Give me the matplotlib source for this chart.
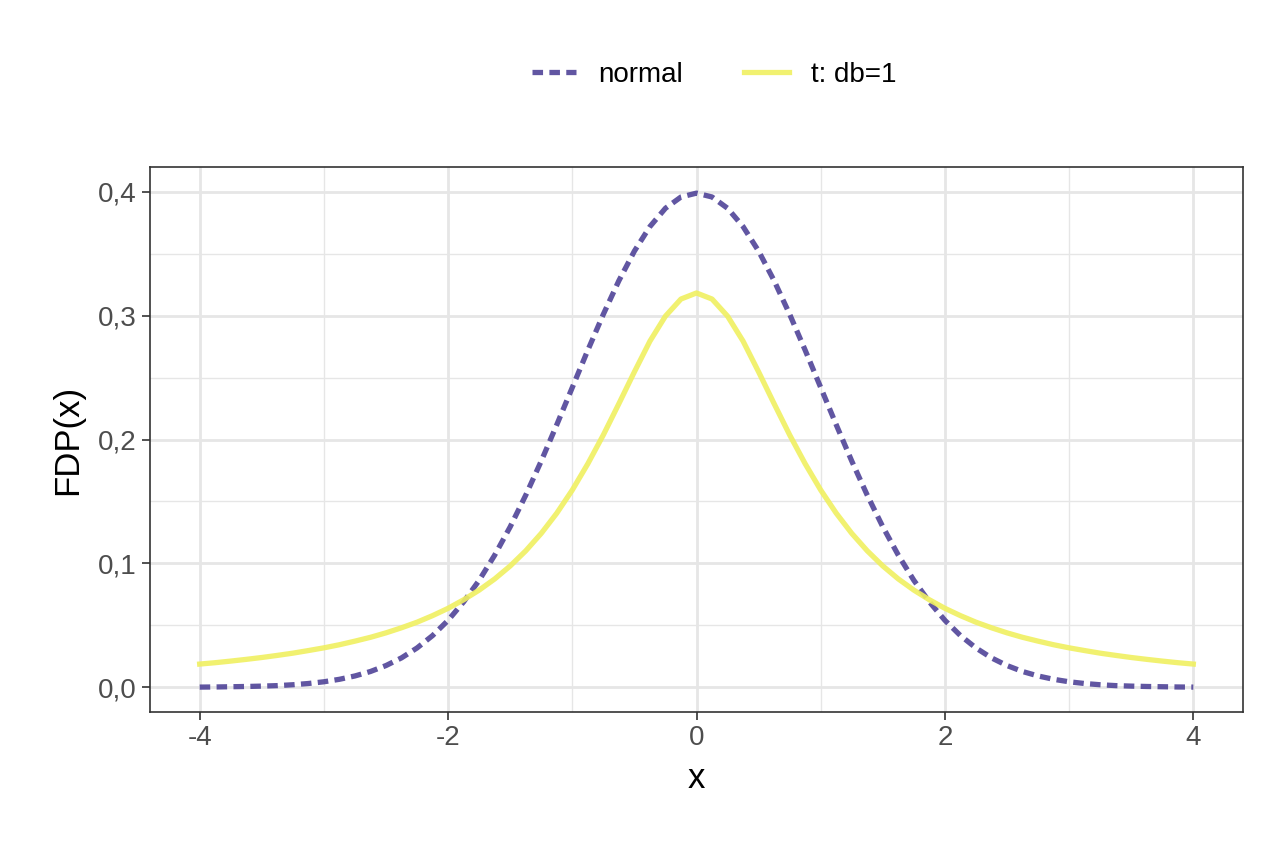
import numpy as np
import matplotlib.pyplot as plt
from matplotlib.ticker import FixedLocator, FuncFormatter

plt.rcParams['font.family'] = ['Liberation Sans', 'DejaVu Sans']
plt.rcParams['axes.unicode_minus'] = False

# values, x from -4 to 4 in steps of 0.125
x = np.arange(-32, 33) * 0.125
normal_half = [0.3989, 0.3958, 0.3867, 0.3719, 0.3521, 0.3282, 0.3011, 0.2721, 0.2420,
               0.2119, 0.1826, 0.1550, 0.1295, 0.1066, 0.0863, 0.0689, 0.0540, 0.0417,
               0.0317, 0.0237, 0.0175, 0.0127, 0.0091, 0.0064, 0.0044, 0.0030, 0.0020,
               0.0013, 0.0009, 0.0006, 0.0004, 0.0002, 0.0001]
t1_half = [0.3183, 0.3134, 0.2996, 0.2794, 0.2546, 0.2289, 0.2037, 0.1804, 0.1592,
           0.1405, 0.1242, 0.1101, 0.0979, 0.0874, 0.0784, 0.0706, 0.0637, 0.0578,
           0.0525, 0.0480, 0.0439, 0.0403, 0.0372, 0.0343, 0.0318, 0.0296, 0.0275,
           0.0257, 0.0240, 0.0225, 0.0211, 0.0198, 0.0187]
normal_y = normal_half[:0:-1] + normal_half
t1_y = t1_half[:0:-1] + t1_half

fig = plt.figure(figsize=(12.64, 8.48), dpi=100)
ax = fig.add_axes([150 / 1264, 1 - 712 / 848, 1093 / 1264, 545 / 848])

ax.plot(x, normal_y, color='#4b3f95', alpha=0.88, lw=3.8, ls=(0, (2.0, 1.2)), label='normal')
ax.plot(x, t1_y, color='#f0f060', alpha=0.9, lw=3.8, label='t: db=1')

ax.set_xlim(-4.4, 4.4)
ax.set_ylim(-0.02, 0.42)
ax.xaxis.set_major_locator(FixedLocator([-4, -2, 0, 2, 4]))
ax.xaxis.set_minor_locator(FixedLocator([-3, -1, 1, 3]))
ax.yaxis.set_major_locator(FixedLocator([0, 0.1, 0.2, 0.3, 0.4]))
ax.yaxis.set_minor_locator(FixedLocator([0.05, 0.15, 0.25, 0.35]))
ax.yaxis.set_major_formatter(FuncFormatter(lambda v, p: f'{v:.1f}'.replace('.', ',')))
ax.grid(which='major', color='#e6e6e6', lw=2.0)
ax.grid(which='minor', color='#e6e6e6', lw=1.0)
ax.set_axisbelow(True)
ax.tick_params(which='major', labelsize=20, colors='#333333', length=6, width=1.2, labelcolor='#4d4d4d')
ax.tick_params(which='minor', length=0)
for s in ax.spines.values():
    s.set_color('#333333')
    s.set_linewidth(1.2)

ax.set_xlabel('x', fontsize=25, labelpad=8)
ax.set_ylabel('FDP(x)', fontsize=25, labelpad=10)

fig.legend(loc='center', bbox_to_anchor=(0.565, 1 - 75 / 848), ncol=2, frameon=False,
           fontsize=20, handlelength=1.6, columnspacing=2.2)

fig.savefig('out.png', dpi=100)
